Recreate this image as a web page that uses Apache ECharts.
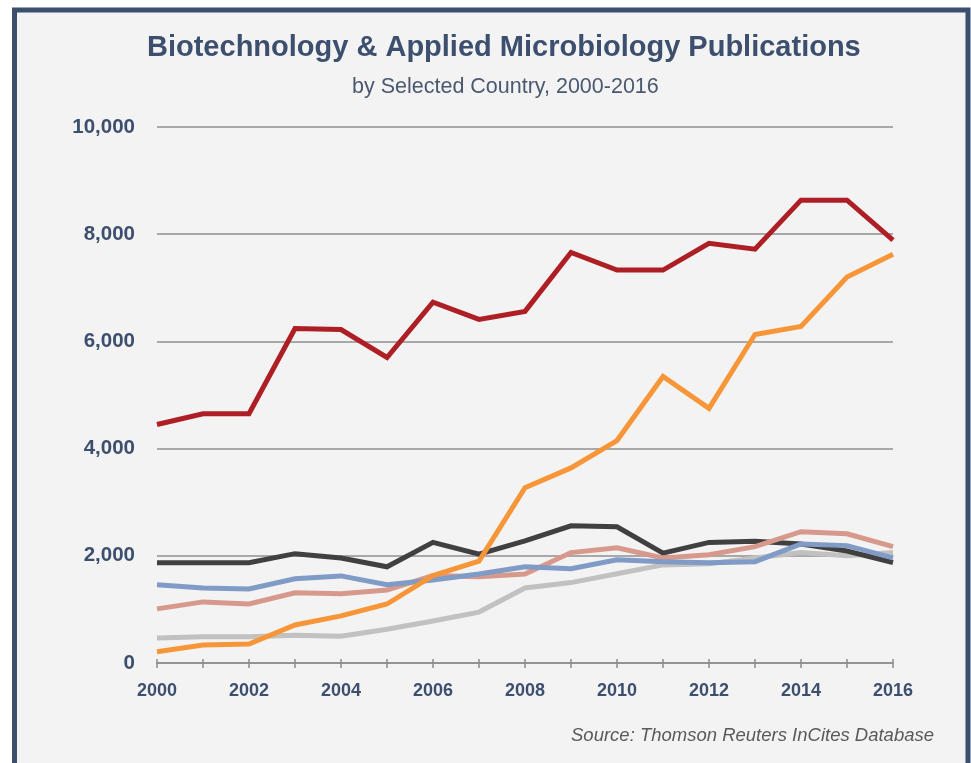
<!DOCTYPE html>
<html>
<head>
<meta charset="utf-8">
<script src="https://cdn.jsdelivr.net/npm/echarts@6/dist/echarts.min.js"></script>
<style>
  html, body { margin: 0; padding: 0; background: #ffffff; }
  #chart { width: 971px; height: 763px; }
</style>
</head>
<body>
<div id="chart"></div>
<script>
// data
const years = ['2000', '2001', '2002', '2003', '2004', '2005', '2006', '2007', '2008',
  '2009', '2010', '2011', '2012', '2013', '2014', '2015', '2016'];

const redSeries = [4450, 4650, 4650, 6240, 6220, 5700, 6730, 6410, 6560, 7660, 7330, 7330, 7830, 7720, 8635, 8635, 7890];
const orangeSeries = [210, 336, 355, 710, 880, 1100, 1630, 1900, 3270, 3640, 4150, 5345, 4750, 6130, 6280, 7200, 7625];
const darkSeries = [1870, 1870, 1870, 2040, 1960, 1795, 2250, 2030, 2280, 2560, 2540, 2050, 2250, 2270, 2220, 2090, 1875];
const pinkSeries = [1010, 1140, 1100, 1310, 1290, 1360, 1630, 1610, 1660, 2060, 2150, 1960, 2020, 2170, 2450, 2410, 2170];
const blueSeries = [1460, 1400, 1380, 1570, 1625, 1460, 1550, 1660, 1795, 1760, 1925, 1890, 1870, 1890, 2220, 2190, 1960];
const greySeries = [465, 490, 490, 520, 500, 630, 785, 950, 1400, 1500, 1665, 1830, 1850, 1960, 2060, 2000, 2060];

const navy = '#3d4f6e';

function line(data, color, z) {
  return {
    type: 'line',
    data: data,
    symbol: 'none',
    z: z,
    lineStyle: { color: color, width: 5, join: 'miter' },
    emphasis: { disabled: true }
  };
}

const chart = echarts.init(document.getElementById('chart'));

const option = {
  backgroundColor: '#ffffff',
  animation: false,
  graphic: [{
    type: 'rect',
    z: -10,
    silent: true,
    shape: { x: 14.5, y: 10, width: 953.5, height: 800 },
    style: { fill: '#f3f3f3', stroke: navy, lineWidth: 5 }
  }],
  title: [
    {
      text: 'Biotechnology & Applied Microbiology Publications',
      left: 142,
      top: 28,
      textStyle: { color: navy, fontSize: 29, fontWeight: 'bold', fontFamily: 'Liberation Sans' }
    },
    {
      text: 'by Selected Country, 2000-2016',
      left: 347,
      top: 71,
      textStyle: { color: '#4b5870', fontSize: 21.5, fontWeight: 'normal', fontFamily: 'Liberation Sans' }
    },
    {
      text: 'Source: Thomson Reuters InCites Database',
      right: 32,
      top: 721,
      textStyle: { color: '#5a5a5a', fontSize: 18.5, fontWeight: 'normal', fontStyle: 'italic', fontFamily: 'Liberation Sans' }
    }
  ],
  grid: { left: 157, right: 78, top: 127, bottom: 100, containLabel: false },
  xAxis: [
    {
      type: 'category',
      data: years,
      boundaryGap: false,
      axisLine: { lineStyle: { color: '#8c8c8c', width: 1.5 } },
      axisTick: { interval: 0, length: 5, lineStyle: { color: '#8c8c8c', width: 1.5 } },
      axisLabel: {
        interval: 1,
        margin: 19,
        color: navy,
        fontSize: 18,
        fontWeight: 'bold',
        fontFamily: 'Liberation Sans'
      },
      splitLine: { show: false }
    },
    {
      type: 'category',
      data: years,
      boundaryGap: false,
      position: 'bottom',
      axisLine: { show: false },
      axisTick: { interval: 0, inside: true, length: 4, lineStyle: { color: '#8c8c8c', width: 1.5 } },
      axisLabel: { show: false },
      splitLine: { show: false }
    }
  ],
  yAxis: {
    type: 'value',
    min: 0,
    max: 10000,
    interval: 2000,
    axisLine: { show: false },
    axisTick: { show: false },
    axisLabel: {
      margin: 22,
      color: navy,
      fontSize: 20.5,
      fontWeight: 'bold',
      fontFamily: 'Liberation Sans',
      formatter: v => v.toLocaleString('en-US')
    },
    splitLine: { lineStyle: { color: '#8f8f8f', width: 1.5 } }
  },
  series: [
    line(greySeries, '#c1c1c1', 2),
    line(darkSeries, '#404040', 3),
    line(pinkSeries, '#d8998d', 4),
    line(blueSeries, '#7f9bc6', 5),
    line(orangeSeries, '#f79638', 6),
    line(redSeries, '#ae1f25', 7)
  ]
};

chart.setOption(option);
</script>
</body>
</html>
